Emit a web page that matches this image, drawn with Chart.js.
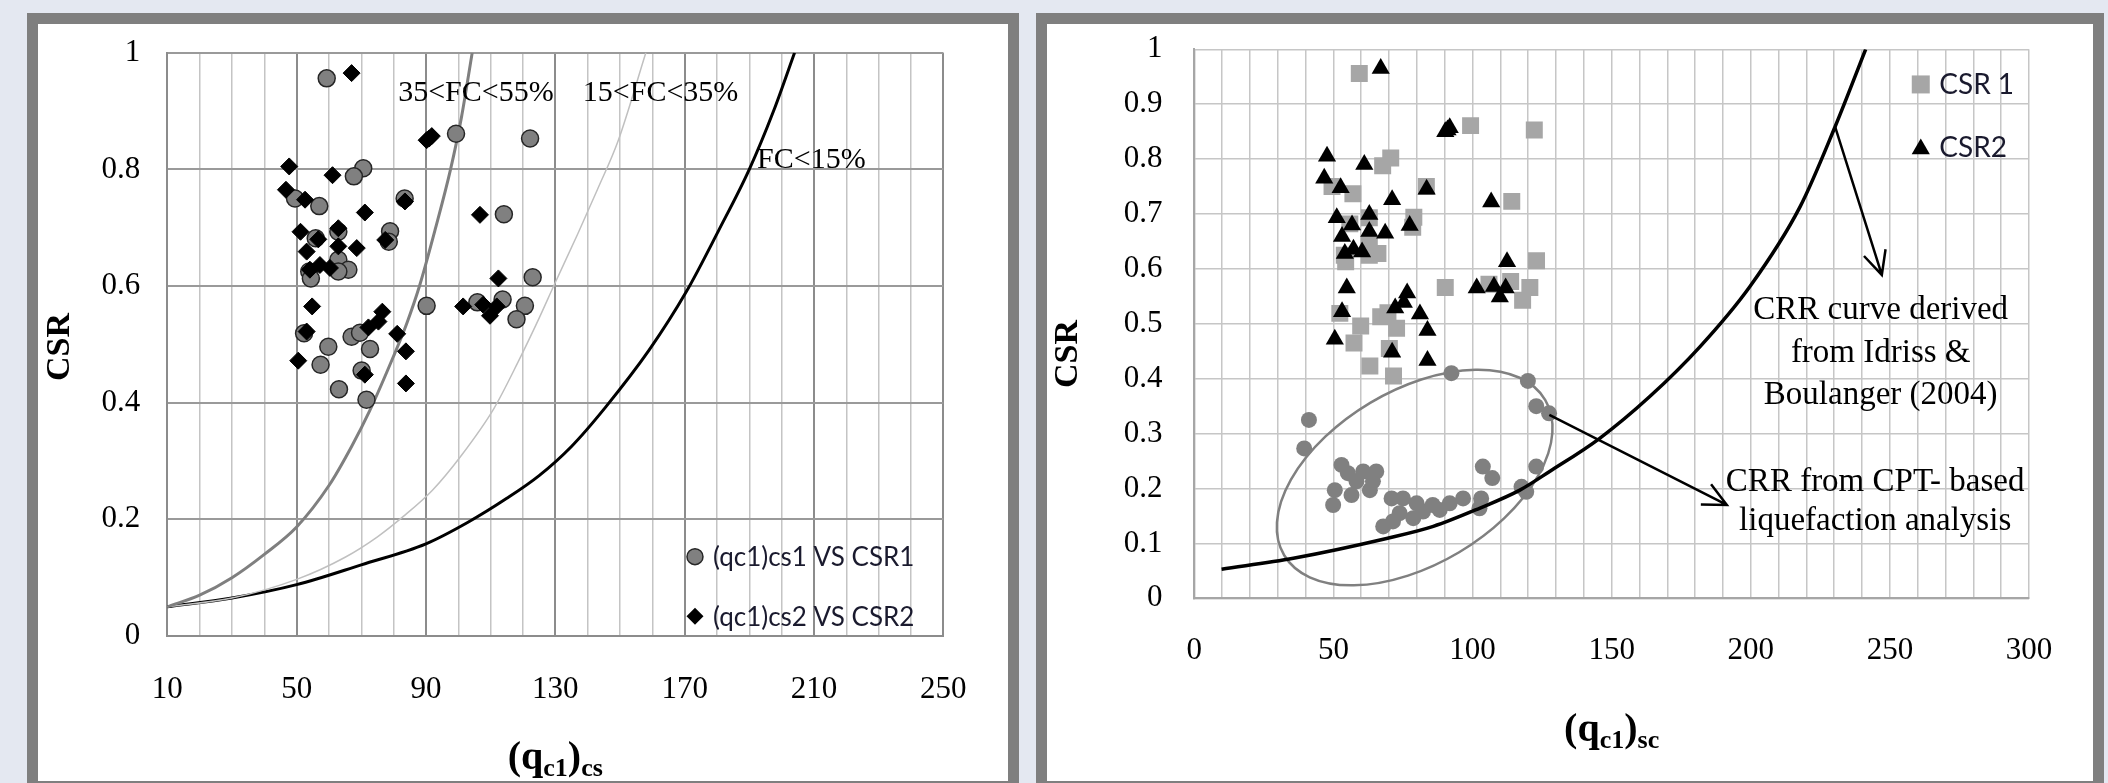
<!DOCTYPE html>
<html lang="en">
<head>
<meta charset="UTF-8">
<title>CSR vs (qc1)cs</title>
<script src="https://cdn.jsdelivr.net/npm/chart.js"></script>
<style>
  html, body { margin: 0; padding: 0; }
  body { width: 2108px; height: 783px; overflow: hidden; background: #e4e8f1; position: relative; }
  .panel { position: absolute; top: 13px; height: 757px; border: 11px solid #7f7f7f; background: #fff; }
  #leftPanel { left: 27px; width: 970px; }
  #rightPanel { left: 1036px; width: 1046px; }
  canvas { display: block; }
</style>
</head>
<body>
<div class="panel" id="leftPanel"><canvas id="leftChart" width="970" height="757"></canvas></div>
<div class="panel" id="rightPanel"><canvas id="rightChart" width="1046" height="757"></canvas></div>

<script>
// (qc1)cs1 vs CSR1  (circles on the left, squares on the right)
const qc1cs1 = [59.3, 99.3, 122.2, 70.6, 67.7, 49.5, 57.0, 114.1, 78.9, 78.5, 62.9, 55.9, 62.9, 66.0, 62.9, 53.9,
                54.4, 123.0, 90.2, 105.9, 113.7, 120.6, 118.0, 52.3, 59.8, 57.4, 67.0, 69.6, 72.7, 63.1, 71.6, 70.1, 83.4];
const csr1   = [0.956, 0.861, 0.853, 0.802, 0.788, 0.750, 0.737, 0.723, 0.694, 0.676, 0.693, 0.682, 0.645, 0.628, 0.625, 0.625,
                0.613, 0.615, 0.566, 0.572, 0.577, 0.566, 0.543, 0.519, 0.496, 0.465, 0.513, 0.520, 0.492, 0.423, 0.405, 0.455, 0.750];

// (qc1)cs2 vs CSR2  (diamonds on the left, triangles on the right)
const qc1cs2 = [67, 90.2, 91.8, 91.0, 47.7, 61.1, 46.7, 52.6, 71.1, 83.5, 106.7, 51.2, 56.7, 62.9, 62.9, 68.6, 53.1, 77.4,
                57.2, 60.3, 54.1, 112.4, 54.8, 101.5, 107.7, 109.8, 111.9, 76.5, 75.3, 72.2, 53.1, 81.1, 83.8, 50.5, 71.1, 83.8];
const csr2   = [0.965, 0.85, 0.857, 0.853, 0.805, 0.790, 0.765, 0.748, 0.726, 0.745, 0.722, 0.693, 0.680, 0.699, 0.668, 0.665, 0.659, 0.679,
                0.636, 0.631, 0.628, 0.613, 0.565, 0.565, 0.568, 0.549, 0.565, 0.556, 0.539, 0.529, 0.522, 0.518, 0.488, 0.472, 0.448, 0.433];

// CRR from CPT-based liquefaction analysis (right chart, gray circles)
const cptQ = [92.4, 119.9, 122.9, 127.5, 41.2, 39.5, 52.9, 55.2, 60.7, 65.4, 58.3, 64.2, 50.5, 56.5, 63.1, 49.9, 103.7, 107.1,
              122.9, 117.6, 119.3, 70.9, 75, 79.9, 85.7, 91.8, 96.6, 103.1, 102.5, 73.8, 78.7, 67.9, 71.4, 88.2, 82.2];
const cptCrr = [0.41, 0.396, 0.35, 0.337, 0.325, 0.273, 0.243, 0.228, 0.231, 0.231, 0.213, 0.213, 0.197, 0.188, 0.197, 0.17, 0.24, 0.219,
                0.24, 0.203, 0.194, 0.182, 0.182, 0.173, 0.17, 0.173, 0.182, 0.182, 0.164, 0.155, 0.146, 0.131, 0.14, 0.161, 0.158];

// CRR curves
const fc3555Q = [10, 20, 30, 40, 50, 60, 67, 72.5, 80, 84, 88, 93, 97.6, 101, 104.3];
const fc3555V = [0.05, 0.07, 0.1, 0.14, 0.187, 0.258, 0.325, 0.385, 0.48, 0.535, 0.6, 0.7, 0.8, 0.89, 1.0];
const fc1535Q = [10, 30, 50, 65, 75, 83, 92, 101, 111, 118.5, 125, 129.5, 137, 143, 149.5, 158];
const fc1535V = [0.05, 0.065, 0.097, 0.135, 0.17, 0.205, 0.25, 0.31, 0.39, 0.47, 0.545, 0.6, 0.69, 0.765, 0.85, 1.0];
const fc15Q = [10, 30, 50, 70, 90, 103, 115, 125, 135, 145.5, 159, 170.5, 180.5, 190, 197.5, 204];
const fc15V = [0.05, 0.065, 0.088, 0.122, 0.158, 0.195, 0.236, 0.275, 0.325, 0.392, 0.49, 0.59, 0.695, 0.8, 0.9, 1.0];

// Idriss & Boulanger (2004) curve on the right chart
const ibQ = [9.8, 35.6, 69.1, 85.9, 102.5, 117, 127.7, 145.6, 163.6, 181.7, 199.7, 217.7, 230.3, 241.3];
const ibV = [0.053, 0.073, 0.109, 0.131, 0.164, 0.197, 0.231, 0.291, 0.367, 0.458, 0.568, 0.713, 0.859, 1.0];

// annotations (data coordinates)
const leftNotes = [
  { text: '35<FC<55%', x: 81.4, y: 0.930 },
  { text: '15<FC<35%', x: 138.5, y: 0.930 },
  { text: 'FC<15%', x: 192.4, y: 0.815 }
];
const rightNotes = [
  { text: 'CRR curve derived', x: 246.7, y: 0.524 },
  { text: 'from Idriss &', x: 246.7, y: 0.446 },
  { text: 'Boulanger (2004)', x: 246.7, y: 0.370 },
  { text: 'CRR from CPT- based', x: 244.7, y: 0.212 },
  { text: 'liquefaction analysis', x: 244.7, y: 0.1395 }
];
const arrows = [
  { from: [230.3, 0.859], to: [247.1, 0.589] },
  { from: [127.6, 0.334], to: [191.4, 0.170] }
];
const ellipseCenter = [79.2, 0.22];
const ellipseMajor = [126.1, 0.3616];
const ellipseMinor = [63.2, 0.356];

const serif = "'Liberation Serif', 'Times New Roman', serif";
const sans = "Lato, 'Open Sans', sans-serif";

function pts(xs, ys) {
  return xs.map((x, i) => ({ x: x, y: ys[i] }));
}

function marker(ctx, style, x, y, r) {
  ctx.beginPath();
  if (style === 'circle') {
    ctx.arc(x, y, r, 0, Math.PI * 2);
  } else if (style === 'diamond') {
    ctx.moveTo(x, y - r); ctx.lineTo(x + r, y); ctx.lineTo(x, y + r); ctx.lineTo(x - r, y);
    ctx.closePath();
  } else if (style === 'square') {
    ctx.rect(x - r, y - r, 2 * r, 2 * r);
  } else {
    ctx.moveTo(x, y - r); ctx.lineTo(x + r * 0.866, y + r / 2); ctx.lineTo(x - r * 0.866, y + r / 2);
    ctx.closePath();
  }
  ctx.fill();
}

function subTitle(ctx, cx, base, parts) {
  let w = 0;
  parts.forEach(p => { ctx.font = 'bold ' + p[1] + 'px ' + serif; w += ctx.measureText(p[0]).width; });
  let x = cx - w / 2;
  ctx.textAlign = 'left';
  ctx.textBaseline = 'alphabetic';
  parts.forEach(p => {
    ctx.font = 'bold ' + p[1] + 'px ' + serif;
    ctx.fillText(p[0], x, base + p[2]);
    x += ctx.measureText(p[0]).width;
  });
}

function yTitle(ctx, x, y) {
  ctx.save();
  ctx.translate(x, y);
  ctx.rotate(-Math.PI / 2);
  ctx.font = 'bold 34px ' + serif;
  ctx.textAlign = 'center';
  ctx.textBaseline = 'middle';
  ctx.fillText('CSR', 0, 0);
  ctx.restore();
}

// keep the plot area exactly where the layout padding puts it
function noPad(s) {
  s.paddingTop = 0; s.paddingBottom = 0; s.paddingLeft = 0; s.paddingRight = 0;
}

const leftExtras = {
  id: 'leftExtras',
  afterDraw(chart) {
    const ctx = chart.ctx, xs = chart.scales.x, ys = chart.scales.y, a = chart.chartArea;
    ctx.save();
    ctx.fillStyle = '#000';
    ctx.font = '30px ' + serif;
    ctx.textAlign = 'left';
    ctx.textBaseline = 'middle';
    leftNotes.forEach(n => ctx.fillText(n.text, xs.getPixelForValue(n.x), ys.getPixelForValue(n.y)));

    // legend
    const lx = xs.getPixelForValue(173.2);
    const l1 = ys.getPixelForValue(0.136), l2 = ys.getPixelForValue(0.034);
    ctx.fillStyle = '#808080'; ctx.strokeStyle = '#262626'; ctx.lineWidth = 1.5;
    marker(ctx, 'circle', lx, l1, 8); ctx.stroke();
    ctx.fillStyle = '#000';
    marker(ctx, 'diamond', lx, l2, 8.5);
    ctx.font = '26px ' + sans;
    ctx.fillStyle = '#1a1a2e';
    ctx.fillText('(qc1)cs1 VS CSR1', lx + 18, l1 + 1);
    ctx.fillText('(qc1)cs2 VS CSR2', lx + 18, l2 + 1);

    ctx.fillStyle = '#000';
    yTitle(ctx, 22, 323);
    subTitle(ctx, (a.left + a.right) / 2, 745, [['(q', 40, 0], ['c1', 26, 7], [')', 40, 0], ['cs', 26, 7]]);
    ctx.restore();
  }
};

const rightExtras = {
  id: 'rightExtras',
  beforeDatasetsDraw(chart) {
    const ctx = chart.ctx, xs = chart.scales.x, ys = chart.scales.y;
    const cx = xs.getPixelForValue(ellipseCenter[0]), cy = ys.getPixelForValue(ellipseCenter[1]);
    const ax = xs.getPixelForValue(ellipseMajor[0]), ay = ys.getPixelForValue(ellipseMajor[1]);
    const bx = xs.getPixelForValue(ellipseMinor[0]), by = ys.getPixelForValue(ellipseMinor[1]);
    ctx.save();
    ctx.strokeStyle = '#808080';
    ctx.lineWidth = 2.5;
    ctx.beginPath();
    ctx.ellipse(cx, cy, Math.hypot(ax - cx, ay - cy), Math.hypot(bx - cx, by - cy), Math.atan2(ay - cy, ax - cx), 0, Math.PI * 2);
    ctx.stroke();
    ctx.restore();
  },
  afterDraw(chart) {
    const ctx = chart.ctx, xs = chart.scales.x, ys = chart.scales.y, a = chart.chartArea;
    ctx.save();
    ctx.strokeStyle = '#000';
    ctx.lineWidth = 2.5;
    arrows.forEach(ar => {
      const x1 = xs.getPixelForValue(ar.from[0]), y1 = ys.getPixelForValue(ar.from[1]);
      const x2 = xs.getPixelForValue(ar.to[0]), y2 = ys.getPixelForValue(ar.to[1]);
      const ang = Math.atan2(y2 - y1, x2 - x1), h = 26, s = 0.45;
      ctx.beginPath();
      ctx.moveTo(x1, y1); ctx.lineTo(x2, y2);
      ctx.moveTo(x2 - h * Math.cos(ang - s), y2 - h * Math.sin(ang - s));
      ctx.lineTo(x2, y2);
      ctx.lineTo(x2 - h * Math.cos(ang + s), y2 - h * Math.sin(ang + s));
      ctx.stroke();
    });

    ctx.fillStyle = '#000';
    ctx.font = '33px ' + serif;
    ctx.textAlign = 'center';
    ctx.textBaseline = 'middle';
    rightNotes.forEach(n => ctx.fillText(n.text, xs.getPixelForValue(n.x), ys.getPixelForValue(n.y)));

    // legend
    const lx = xs.getPixelForValue(261.1);
    const l1 = ys.getPixelForValue(0.936), l2 = ys.getPixelForValue(0.822);
    ctx.fillStyle = '#a6a6a6';
    marker(ctx, 'square', lx, l1, 9);
    ctx.fillStyle = '#000';
    marker(ctx, 'triangle', lx, l2 + 2, 10.5);
    ctx.font = '28px ' + sans;
    ctx.textAlign = 'left';
    ctx.fillStyle = '#1a1a2e';
    ctx.fillText('CSR 1', lx + 18.5, l1 + 1);
    ctx.fillText('CSR2', lx + 18.5, l2 + 1);

    ctx.fillStyle = '#000';
    yTitle(ctx, 21, 330);
    subTitle(ctx, (a.left + a.right) / 2, 717, [['(q', 40, 0], ['c1', 26, 7], [')', 40, 0], ['sc', 26, 7]]);
    ctx.restore();
  }
};

function curve(label, xs, ys, color, width) {
  return {
    label: label, data: pts(xs, ys), showLine: true, pointRadius: 0,
    borderColor: color, borderWidth: width, cubicInterpolationMode: 'monotone'
  };
}

const tickLabel = v => String(Math.round(v * 10) / 10);

new Chart(document.getElementById('leftChart'), {
  type: 'scatter',
  data: {
    datasets: [
      { label: '(qc1)cs2 VS CSR2', data: pts(qc1cs2, csr2), pointStyle: 'rectRot', pointRadius: 8.5,
        backgroundColor: '#000', borderColor: '#000', borderWidth: 1 },
      { label: '(qc1)cs1 VS CSR1', data: pts(qc1cs1, csr1), pointStyle: 'circle', pointRadius: 8.5,
        backgroundColor: '#808080', borderColor: '#262626', borderWidth: 1.5 },
      curve('35<FC<55%', fc3555Q, fc3555V, '#7f7f7f', 3),
      curve('15<FC<35%', fc1535Q, fc1535V, '#c0c0c0', 1.5),
      curve('FC<15%', fc15Q, fc15V, '#000', 3)
    ]
  },
  options: {
    responsive: false,
    animation: false,
    devicePixelRatio: 1,
    layout: { padding: { left: 0, top: 28.7, right: 64.7, bottom: 0 } },
    plugins: { legend: { display: false }, tooltip: { enabled: false } },
    scales: {
      x: {
        type: 'linear', min: 10, max: 250,
        afterFit: s => { s.height = 145; noPad(s); },
        ticks: { stepSize: 10, autoSkip: false, maxRotation: 0, padding: 35, color: '#000',
                 font: { family: serif, size: 31 }, callback: v => ((v - 10) % 40 === 0 ? v : '') },
        grid: { drawTicks: false,
                color: c => ((c.tick.value - 10) % 40 === 0 ? '#8c8c8c' : '#c4c4c4'),
                lineWidth: c => ((c.tick.value - 10) % 40 === 0 ? 2 : 1.5) },
        border: { color: '#8c8c8c', width: 2 }
      },
      y: {
        min: 0, max: 1,
        afterFit: s => { s.width = 129.3; noPad(s); },
        ticks: { stepSize: 0.2, padding: 27, color: '#000', font: { family: serif, size: 31 }, callback: tickLabel },
        grid: { drawTicks: false, color: '#9a9a9a', lineWidth: 2 },
        border: { color: '#8c8c8c', width: 2 }
      }
    }
  },
  plugins: [leftExtras]
});

new Chart(document.getElementById('rightChart'), {
  type: 'scatter',
  data: {
    datasets: [
      curve('CRR curve derived from Idriss & Boulanger (2004)', ibQ, ibV, '#000', 3.5),
      { label: 'CSR2', data: pts(qc1cs2, csr2), pointStyle: 'triangle', pointRadius: 10.5,
        backgroundColor: '#000', borderWidth: 0 },
      { label: 'CSR 1', data: pts(qc1cs1, csr1), pointStyle: 'rect', pointRadius: 12,
        backgroundColor: '#a6a6a6', borderWidth: 0 },
      { label: 'CRR from CPT', data: pts(cptQ, cptCrr), pointStyle: 'circle', pointRadius: 8,
        backgroundColor: '#808080', borderWidth: 0 }
    ]
  },
  options: {
    responsive: false,
    animation: false,
    devicePixelRatio: 1,
    layout: { padding: { left: 0, top: 25.3, right: 64, bottom: 0 } },
    plugins: { legend: { display: false }, tooltip: { enabled: false } },
    scales: {
      x: {
        type: 'linear', min: 0, max: 300,
        afterFit: s => { s.height = 182.7; noPad(s); },
        ticks: { stepSize: 10, autoSkip: false, maxRotation: 0, padding: 34, color: '#000',
                 font: { family: serif, size: 31 }, callback: v => (v % 50 === 0 ? v : '') },
        grid: { drawTicks: false, color: '#c6c6c6', lineWidth: 1.5 },
        border: { color: '#a6a6a6', width: 2 }
      },
      y: {
        min: 0, max: 1,
        afterFit: s => { s.width = 147.3; noPad(s); },
        ticks: { stepSize: 0.1, padding: 31.7, color: '#000', font: { family: serif, size: 31 }, callback: tickLabel },
        grid: { drawTicks: false, color: '#c6c6c6', lineWidth: 1.5 },
        border: { color: '#a6a6a6', width: 2 }
      }
    }
  },
  plugins: [rightExtras]
});
</script>
</body>
</html>
